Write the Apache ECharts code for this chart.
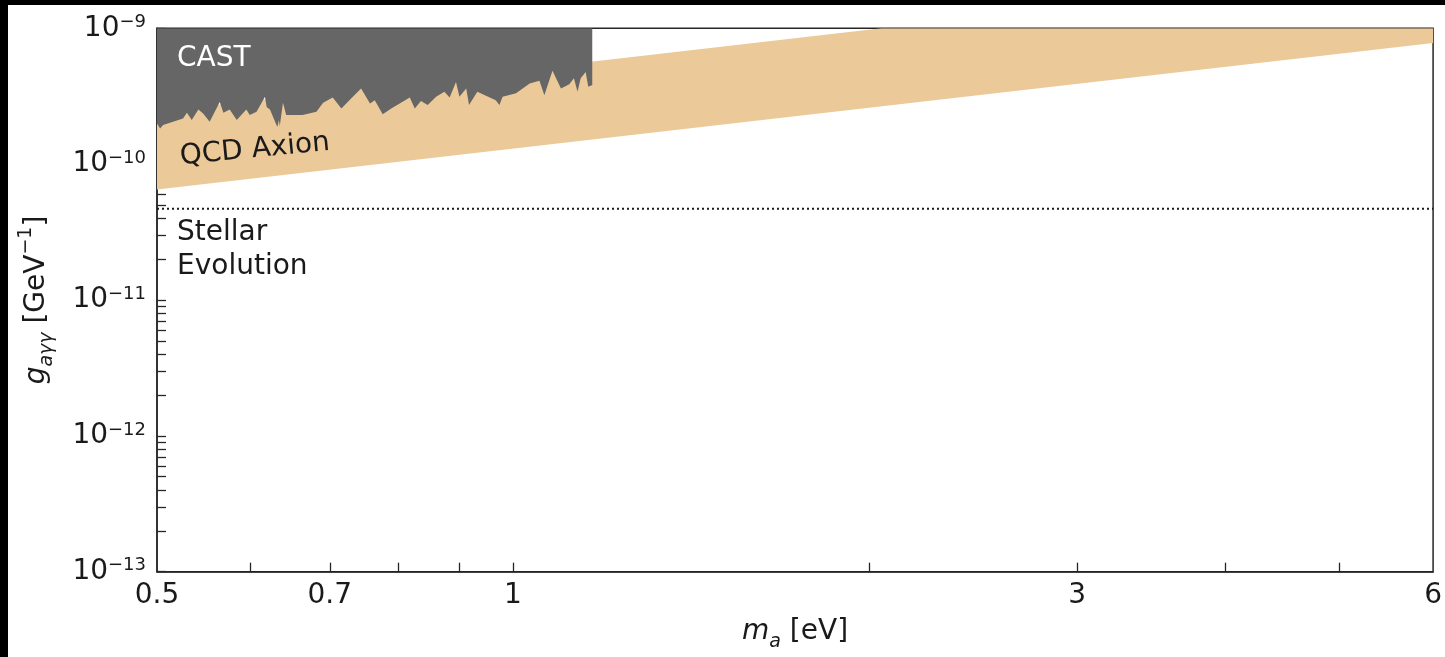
<!DOCTYPE html>
<html>
<head>
<meta charset="utf-8">
<script src="https://cdn.jsdelivr.net/npm/echarts@6/dist/echarts.min.js"></script>
<style>
  html, body { margin: 0; padding: 0; background: #000; width: 1445px; height: 657px; overflow: hidden; }
  #chart { position: absolute; left: 8px; top: 5px; width: 1437px; height: 652px; background: #fff; }
</style>
</head>
<body>
<div id="chart"></div>
<script>
// Axion mass axis (eV): tick positions and labelled values
const massTicks = [0.6, 0.7, 0.8, 0.9, 1, 2, 3, 4, 5];
const massLabels = [0.5, 0.7, 1, 3, 6];

// Photon coupling axis (GeV^-1): decades and the 2..9 subdivisions
const couplingTicks = [
  1e-13, 2e-13, 3e-13, 4e-13, 5e-13, 6e-13, 7e-13, 8e-13, 9e-13,
  1e-12, 2e-12, 3e-12, 4e-12, 5e-12, 6e-12, 7e-12, 8e-12, 9e-12,
  1e-11, 2e-11, 3e-11, 4e-11, 5e-11, 6e-11, 7e-11, 8e-11, 9e-11,
  1e-10, 2e-10, 3e-10, 4e-10, 5e-10, 6e-10, 7e-10, 8e-10, 9e-10,
  1e-9
];
const couplingLabels = [1e-13, 1e-12, 1e-11, 1e-10, 1e-9];

// QCD axion band: lower and upper edges [m_a, g]
const bandLower = [[0.5, 6.5e-11], [6, 7.8e-10]];
const bandUpper = [[0.5, 2.43e-10], [2.05, 1e-9], [6, 1e-9]];

// CAST exclusion limit [m_a, g]; excluded region extends up to castTop
const castLimit = [
  [0.500, 1.99e-10], [0.503, 1.83e-10], [0.506, 1.94e-10], [0.526, 2.17e-10],
  [0.530, 2.39e-10], [0.535, 2.11e-10], [0.542, 2.53e-10], [0.547, 2.36e-10],
  [0.554, 2.05e-10], [0.565, 2.87e-10], [0.569, 2.39e-10], [0.576, 2.53e-10],
  [0.584, 2.11e-10], [0.595, 2.53e-10], [0.599, 2.30e-10], [0.607, 2.43e-10],
  [0.617, 3.13e-10], [0.619, 2.64e-10], [0.623, 2.53e-10], [0.632, 1.88e-10],
  [0.634, 2.11e-10], [0.635, 1.90e-10], [0.639, 2.83e-10], [0.643, 2.30e-10],
  [0.664, 2.30e-10], [0.682, 2.43e-10], [0.691, 2.83e-10], [0.704, 3.10e-10],
  [0.716, 2.57e-10], [0.730, 3.05e-10], [0.744, 3.61e-10], [0.757, 2.80e-10],
  [0.764, 2.96e-10], [0.776, 2.33e-10], [0.789, 2.57e-10], [0.818, 3.10e-10],
  [0.826, 2.57e-10], [0.836, 2.92e-10], [0.847, 2.72e-10], [0.861, 3.13e-10],
  [0.875, 3.41e-10], [0.884, 3.10e-10], [0.895, 4.02e-10], [0.901, 3.13e-10],
  [0.913, 3.61e-10], [0.918, 2.72e-10], [0.933, 3.41e-10], [0.967, 2.96e-10],
  [0.974, 2.72e-10], [0.980, 3.13e-10], [1.006, 3.32e-10], [1.033, 3.93e-10],
  [1.053, 4.11e-10], [1.063, 3.22e-10], [1.080, 4.87e-10], [1.098, 3.61e-10],
  [1.116, 3.88e-10], [1.126, 4.28e-10], [1.134, 3.41e-10], [1.141, 4.28e-10],
  [1.152, 4.76e-10], [1.158, 3.71e-10], [1.167, 3.82e-10]
];
const castTop = 1e-9;

// Stellar evolution (HB star) bound on g
const stellarBound = 4.7e-11;
const massRange = [0.5, 6];

const FONT = '"DejaVu Sans", "Liberation Sans", sans-serif';
const INK = '#1a1a1a';
const AXIS = '#262626';

function polygonRenderer(points, fill) {
  return function (params, api) {
    return {
      type: 'polygon',
      shape: { points: points.map(p => api.coord(p)) },
      style: { fill: fill, stroke: null }
    };
  };
}

const bandPolygon = bandLower.concat(bandUpper.slice().reverse());
const castPolygon = castLimit.concat([
  [castLimit[castLimit.length - 1][0], castTop],
  [castLimit[0][0], castTop]
]);

const chart = echarts.init(document.getElementById('chart'), null, { renderer: 'canvas' });

chart.setOption({
  animation: false,
  backgroundColor: '#fff',
  textStyle: { fontFamily: FONT },
  grid: {
    left: 149, right: 9, top: 23.3, bottom: 85.3,
    show: true, borderColor: AXIS, borderWidth: 1.5, backgroundColor: 'transparent'
  },
  xAxis: {
    type: 'log',
    logBase: 10,
    min: 0.5,
    max: 6,
    name: '{i|m}{sub|a}{n| [eV]}',
    nameLocation: 'middle',
    nameGap: 40,
    nameTextStyle: {
      rich: {
        i: { fontFamily: FONT, fontStyle: 'italic', fontSize: 28, color: INK, lineHeight: 40, verticalAlign: 'middle' },
        sub: { fontFamily: FONT, fontStyle: 'italic', fontSize: 19, color: INK, lineHeight: 20, verticalAlign: 'bottom' },
        n: { fontFamily: FONT, fontSize: 28, color: INK, lineHeight: 40, verticalAlign: 'middle' }
      }
    },
    axisLine: { show: true, lineStyle: { color: AXIS, width: 1.5 } },
    axisTick: { show: true, inside: true, length: 9, customValues: massTicks, lineStyle: { color: AXIS, width: 1.3 } },
    minorTick: { show: false },
    splitLine: { show: false },
    axisLabel: {
      customValues: massLabels,
      margin: 10,
      fontSize: 28,
      color: INK,
      fontFamily: FONT,
      formatter: v => String(+Number(v).toPrecision(3))
    }
  },
  yAxis: {
    type: 'log',
    logBase: 10,
    min: 1e-13,
    max: 1e-9,
    name: '{i|g}{sub|aγγ}{n| [GeV}{sup|−1}{n|]}',
    nameLocation: 'middle',
    nameRotate: 90,
    nameGap: 100,
    nameTextStyle: {
      rich: {
        i: { fontFamily: FONT, fontStyle: 'italic', fontSize: 28, color: INK, lineHeight: 40, verticalAlign: 'middle' },
        sub: { fontFamily: FONT, fontStyle: 'italic', fontSize: 19, color: INK, lineHeight: 20, verticalAlign: 'bottom' },
        sup: { fontFamily: FONT, fontSize: 19, color: INK, lineHeight: 26, verticalAlign: 'top' },
        n: { fontFamily: FONT, fontSize: 28, color: INK, lineHeight: 40, verticalAlign: 'middle' }
      }
    },
    axisLine: { show: true, lineStyle: { color: AXIS, width: 1.5 } },
    axisTick: { show: true, inside: true, length: 9, customValues: couplingTicks, lineStyle: { color: AXIS, width: 1.3 } },
    minorTick: { show: false },
    splitLine: { show: false },
    axisLabel: {
      customValues: couplingLabels,
      margin: 11,
      formatter: v => '{b|10}{s|−' + Math.round(-Math.log10(v)) + '}',
      rich: {
        b: { fontFamily: FONT, fontSize: 28, color: INK, lineHeight: 30, verticalAlign: 'middle' },
        s: { fontFamily: FONT, fontSize: 18, color: INK, lineHeight: 18, verticalAlign: 'top' }
      }
    }
  },
  series: [
    {
      name: 'QCD Axion',
      type: 'custom',
      coordinateSystem: 'cartesian2d',
      clip: true,
      silent: true,
      z: 1,
      data: [0],
      renderItem: polygonRenderer(bandPolygon, '#ecc999')
    },
    {
      name: 'CAST',
      type: 'custom',
      coordinateSystem: 'cartesian2d',
      clip: true,
      silent: true,
      z: 2,
      data: [0],
      renderItem: polygonRenderer(castPolygon, '#666666')
    },
    {
      name: 'Stellar Evolution',
      type: 'line',
      silent: true,
      z: 3,
      symbol: 'none',
      data: [[massRange[0], stellarBound], [massRange[1], stellarBound]],
      lineStyle: { color: INK, width: 2, type: [2, 3] }
    }
  ],
  graphic: [
    {
      type: 'text', x: 169, y: 53.5, silent: true, z: 10,
      style: { text: 'CAST', fill: '#fff', font: '28px ' + FONT, align: 'left', verticalAlign: 'middle' }
    },
    {
      type: 'text', x: 172, y: 152, rotation: 0.096, silent: true, z: 10,
      style: { text: 'QCD Axion', fill: INK, font: '28px ' + FONT, align: 'left', verticalAlign: 'middle' }
    },
    {
      type: 'text', x: 169, y: 210.5, silent: true, z: 10,
      style: { text: 'Stellar\nEvolution', fill: INK, font: '28px ' + FONT, lineHeight: 34, align: 'left', verticalAlign: 'top' }
    }
  ]
});
</script>
</body>
</html>
